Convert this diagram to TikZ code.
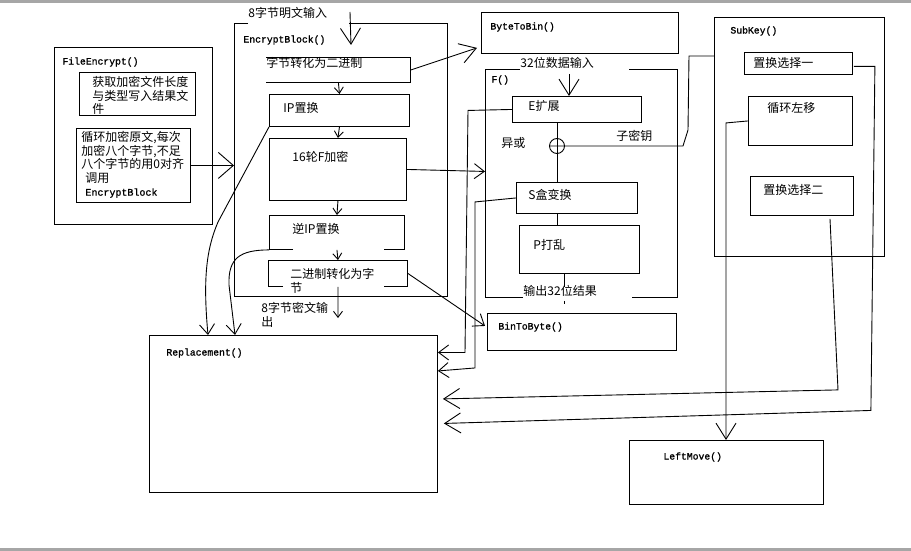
\documentclass[tikz,border=0pt]{standalone}
\usepackage{fontspec}
\newfontfamily\cjk{Noto Sans CJK SC}
\newfontfamily\mono[FakeBold=1.2]{Liberation Mono}
\usetikzlibrary{arrows.meta,calc}
\begin{document}
\begin{tikzpicture}[x=1pt,y=-1pt,line width=0.9pt,
  box/.style={draw,rectangle,inner sep=0,anchor=north west},
  frame/.style={rectangle,inner sep=0,anchor=north west},
  zh/.style={font=\cjk\fontsize{12}{13.5}\selectfont,inner sep=0,anchor=west,align=left},
  code/.style={font=\mono\fontsize{9.75}{12}\selectfont,inner sep=0,anchor=west},
  arrS/.style={-{Straight Barb[length=6pt,width=9pt]}},
  arrM/.style={-{Straight Barb[length=10pt,width=15pt]}},
  arrV/.style={-{Straight Barb[length=16pt,width=20pt]}},
  arrL/.style={-{Straight Barb[length=15pt,width=26pt]}}]
\useasboundingbox (0,0) rectangle (911,551);
\fill[gray!70] (0,0) rectangle (911,3);
\fill[gray!70] (0,548) rectangle (911,551);

% FileEncrypt
\node[box,minimum width=158pt,minimum height=177pt] (fe) at (54,47) {};
\node[code] (feT) at (62,62) {FileEncrypt()};
\node[box,minimum width=116pt,minimum height=43pt] (fe1) at (79,72) {};
\node[zh,anchor=north west] (fe1T) at (92,76) {获取加密文件长度\\与类型写入结果文\\件};
\node[box,minimum width=114pt,minimum height=74pt] (fe2) at (76,128) {};
\node[zh,anchor=north west] (fe2T) at (81,131) {循环加密原文,每次\\加密八个字节,不足\\八个字节的用0对齐\\\hspace*{4pt}调用\\\hspace*{4pt}{\mono\fontsize{10}{13.5}\selectfont EncryptBlock}};

% EncryptBlock
\node[frame,minimum width=213pt,minimum height=273pt] (eb) at (234,23) {};
\node[zh] (in8) at (248,13) {8字节明文输入};
\draw (in8.west |- eb.north) -- (eb.north west) -- (eb.south west) -- (eb.south east) -- (eb.north east) -- ($(in8.east |- eb.north)+(21,0)$);
\node[code] (ebT) at (243,40) {EncryptBlock()};
\coordinate (inTop) at (350,12);
\coordinate (inEnd) at (351,45);
\draw[arrV] (inTop) -- (inEnd);

\node[frame,minimum width=144pt,minimum height=25pt] (b2b) at (266,57) {};
\draw (b2b.north west) -- (b2b.north east) -- (b2b.south east) -- (b2b.south west);
\node[zh] (b2bT) at (266,63) {字节转化为二进制};
\node[box,minimum width=140pt,minimum height=32pt] (ip) at (269,94) {};
\node[zh] (ipT) at (283,108) {IP置换};
\node[box,minimum width=137pt,minimum height=62pt] (f16) at (269,138) {};
\node[zh] (f16T) at (292,157) {16轮F加密};
\node[frame,minimum width=135pt,minimum height=34pt] (iip) at (269,215) {};
\draw ($(iip.south west)+(24,0)$) -- (iip.south west) -- (iip.north west) -- (iip.north east) -- (iip.south east) -- ($(iip.south east)+(-21,0)$);
\node[zh] (iipT) at (292,229) {逆IP置换};
\node[frame,minimum width=139pt,minimum height=26pt] (bin2) at (268,260) {};
\draw ($(bin2.south west)+(15,0)$) -- (bin2.south west) -- (bin2.north west) -- (bin2.north east) -- (bin2.south east) -- ($(bin2.south east)+(-24,0)$);
\node[zh,anchor=north west] (bin2T) at (290,268) {二进制转化为字\\节};
\node[zh,anchor=north west] (outT) at (261,302) {8字节密文输\\出};
\coordinate (outEnd) at (338,318);

\draw[arrS] (b2b.south) -- (ip.north);
\draw[arrS] (ip.south) -- (f16.north);
\draw[arrS] (f16.south) -- (iip.north);
\draw[arrS] (iip.south) -- (bin2.north);
\draw[arrS] (bin2.south) -- (outEnd);

% Replacement
\node[box,minimum width=288pt,minimum height=157pt] (rep) at (149,335) {};
\node[code] (repT) at (166,353) {Replacement()};

% ByteToBin
\node[box,minimum width=197pt,minimum height=41pt] (btb) at (481,12) {};
\node[code] (btbT) at (490,27) {ByteToBin()};

% F
\node[frame,minimum width=192pt,minimum height=228pt] (fb) at (485,69) {};
\node[zh] (d32) at (520,63) {32位数据输入};
\node[zh] (o32) at (523,291) {输出32位结果};
\draw (d32.west |- fb.north) -- (fb.north west) -- (fb.south west) -- (o32.west |- fb.south);
\draw ($(o32.east |- fb.south)+(35,0)$) -- (fb.south east) -- (fb.north east) -- ($(d32.east |- fb.north)+(35,0)$);
\node[code] (fT) at (491,80) {F()};
\node[box,minimum width=129pt,minimum height=26pt] (ex) at (512,96) {};
\node[zh] (exT) at (528,106) {E扩展};
\node[circle,draw,minimum size=15pt,inner sep=0] (xor) at (557,146) {};
\node[zh] (xorT) at (501,143) {异或};
\node[zh] (skT) at (616,136) {子密钥};
\node[box,minimum width=121pt,minimum height=31pt] (sb) at (516,182) {};
\node[zh] (sbT) at (528,195) {S盒变换};
\node[box,minimum width=120pt,minimum height=48pt] (pp) at (519,225) {};
\node[zh] (ppT) at (533,245) {P打乱};
\draw (xor |- ex.south) -- (xor |- sb.north);
\draw (xor |- sb.south) -- (xor |- pp.north);
\coordinate (fin) at (569,74);
\draw[arrV] (fin) -- (fin |- ex.north);
\draw ($(pp.south)+(-15,0)$) -- ++(0,13);
\draw ($(pp.south)+(-15,27)$) -- ++(0,3);

% BinToByte
\node[box,minimum width=189pt,minimum height=37pt] (btb2) at (487,313) {};
\node[code] (btb2T) at (498,327) {BinToByte()};

% SubKey
\node[box,minimum width=170pt,minimum height=239pt] (sk) at (714,17) {};
\node[code] (skTitle) at (730,31) {SubKey()};
\node[box,minimum width=108pt,minimum height=22pt] (pc1) at (744,52) {};
\node[zh] (pc1T) at (753,63) {置换选择一};
\node[box,minimum width=104pt,minimum height=49pt] (rot) at (748,96) {};
\node[zh] (rotT) at (767,108) {循环左移};
\node[box,minimum width=103pt,minimum height=39pt] (pc2) at (750,176) {};
\node[zh] (pc2T) at (763,190) {置换选择二};

% LeftMove
\node[box,minimum width=194pt,minimum height=64pt] (lm) at (629,440) {};
\node[code] (lmT) at (663,457) {LeftMove()};

% connectors
\draw[arrL] (fe2.east) -- (fe2.east -| eb.west);
\draw[arrV] (b2b.east) -- ($(btb.south west)+(-4,-6)$);
\draw[arrM] (f16.east) -- ($(f16.east -| fb.west)+(0,2)$);
\draw[arrM] (bin2.east) -- ($(btb2.west)+(-2,-6)$);
\draw ($(sk.north west)+(0,39)$) -- ++(-25,0) -- ++(-1,74) -- ++(-5,16) -- (xor.west);
\draw[arrM] (ex.west) -- ++(-44,1) -- ++(-3,242) coordinate (t1) -- (t1 -| rep.east);
\draw[arrM] (sb.west) -- ++(-41,4) -- ++(0,166) coordinate (t2) -- ($(t2 -| rep.east)+(0,3)$);
\draw[arrV] ($(pc2.south west)+(80,3)$) -- ++(8,171) coordinate (t3) -- ($(t3 -| rep.east)+(5,9)$);
\draw[arrV] ($(pc1.east)+(1,3)$) -- ++(21,0) -- ++(-4,344) coordinate (t4) -- ($(t4 -| rep.east)+(6,13)$);
\draw[arrV] (rot.west) -- ++(-22,2) coordinate (t5) -- (t5 |- lm.north);
\draw[arrM] (ip.south west) -- (218,222) .. controls (206,250) and (203,280) .. ($(rep.north west)+(59,0)$);
\draw[arrM] (iip.south west) .. controls (240,250) and (228,258) .. (229,285) -- ($(rep.north west)+(86,0)$);
\end{tikzpicture}
\end{document}
